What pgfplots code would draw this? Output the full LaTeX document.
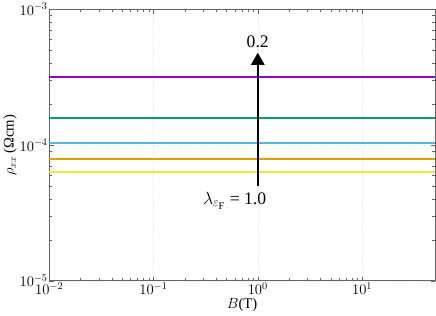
\documentclass[border=0pt]{standalone}
\usepackage{fontspec}
\setmainfont{Liberation Serif}
\usepackage{pgfplots}
\pgfplotsset{compat=1.18}
\usetikzlibrary{arrows.meta}
\definecolor{lnA}{RGB}{148,0,211}
\definecolor{lnB}{RGB}{0,158,115}
\definecolor{lnC}{RGB}{86,180,233}
\definecolor{lnD}{RGB}{230,159,0}
\definecolor{lnE}{RGB}{240,228,66}
\definecolor{axgray}{RGB}{100,100,100}
\begin{document}
\begin{tikzpicture}
\begin{axis}[
  scale only axis,
  width=378pt, height=266pt,
  xmode=log, ymode=log,
  xmin=0.01, xmax=50,
  ymin=1e-5, ymax=1e-3,
  axis line style={axgray, line width=0.9pt},
  tick style={axgray},
  tick align=inside,
  xtick={0.01,0.1,1,10},
  ytick={1e-5,1e-4,1e-3},
  xmajorgrids, ymajorgrids,
  major grid style={gray!20, dotted},
  tick label style={font=\Large},
  xlabel={$B$(T)},
  ylabel={$\rho_{xx}$\,(Ωcm)},
  label style={font=\Large},
  xlabel style={yshift=3pt},
  ylabel style={yshift=-4pt},
  xticklabel style={yshift=2pt},
  yticklabel style={xshift=2pt},
  clip=false,
]
\addplot[draw=lnA, line width=2pt] coordinates {(0.01,3.18e-4) (50,3.18e-4)};
\addplot[draw=lnB, line width=2pt] coordinates {(0.01,1.58e-4) (50,1.58e-4)};
\addplot[draw=lnC, line width=2pt] coordinates {(0.01,1.04e-4) (50,1.04e-4)};
\addplot[draw=lnD, line width=2pt] coordinates {(0.01,7.85e-5) (50,7.85e-5)};
\addplot[draw=lnE, line width=2pt] coordinates {(0.01,6.3e-5) (50,6.3e-5)};
\addplot[black, line width=2.2pt, -{Triangle[length=12pt,width=13pt]}] coordinates {(1,5.0e-5) (1,4.8e-4)};
\node[font=\LARGE] at (axis cs:1,5.8e-4) {0.2};
\node[font=\LARGE] at (axis cs:0.6,3.9e-5) {$\lambda_{\varepsilon_{\mathrm{F}}}$ = 1.0};
\end{axis}
\end{tikzpicture}
\end{document}
